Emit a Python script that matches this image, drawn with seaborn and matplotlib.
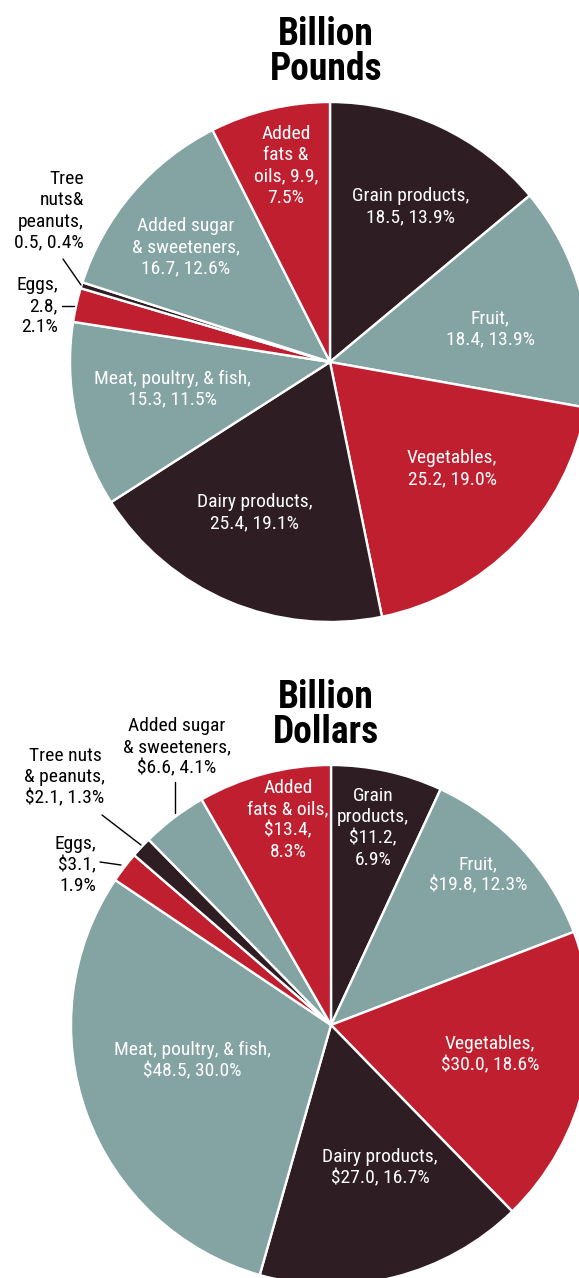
import matplotlib
matplotlib.use("Agg")
import matplotlib.pyplot as plt
import seaborn as sns

sns.set_theme(style="white")
plt.rcParams["font.family"] = ["Roboto Condensed", "Archivo Narrow", "Asap Condensed", "DejaVu Sans"]

# Food groups, clockwise from 12 o'clock
categories = ["Grain products", "Fruit", "Vegetables", "Dairy products",
              "Meat, poultry, & fish", "Eggs", "Tree nuts & peanuts",
              "Added sugar & sweeteners", "Added fats & oils"]
pounds = [18.5, 18.4, 25.2, 25.4, 15.3, 2.8, 0.5, 16.7, 9.9]
pounds_pct = [13.9, 13.9, 19.0, 19.1, 11.5, 2.1, 0.4, 12.6, 7.5]
dollars = [11.2, 19.8, 30.0, 27.0, 48.5, 3.1, 2.1, 6.6, 13.4]
dollars_pct = [6.9, 12.3, 18.6, 16.7, 30.0, 1.9, 1.3, 4.1, 8.3]

DARK, TEAL, RED = "#2e1e23", "#84a3a3", "#c01f2f"
slice_colors = [DARK, TEAL, RED, DARK, TEAL, RED, DARK, TEAL, RED]

pounds_fmt = ["Grain products,\n{v}, {p}%", "Fruit,\n{v}, {p}%", "Vegetables,\n{v}, {p}%",
              "Dairy products,\n{v}, {p}%", "Meat, poultry, & fish,\n{v}, {p}%",
              "Eggs,\n{v},\n{p}%", "Tree\nnuts&\npeanuts,\n{v}, {p}%",
              "Added sugar\n& sweeteners,\n{v}, {p}%", "Added\nfats &\noils, {v},\n{p}%"]
dollars_fmt = ["Grain\nproducts,\n${v},\n{p}%", "Fruit,\n${v}, {p}%", "Vegetables,\n${v}, {p}%",
               "Dairy products,\n${v}, {p}%", "Meat, poultry, & fish,\n${v}, {p}%",
               "Eggs,\n${v},\n{p}%", "Tree nuts\n& peanuts,\n${v}, {p}%",
               "Added sugar\n& sweeteners,\n${v}, {p}%", "Added\nfats & oils,\n${v},\n{p}%"]

W, H = 579, 1278


def Y(py):
    return H - py


fig = plt.figure(figsize=(W / 100, H / 100), dpi=100)
ax = fig.add_axes([0, 0, 1, 1])

# (x, y, ha, color) for each label, in pixel coordinates
pounds_pos = [(411, 207, "center", "white"), (490, 329, "center", "white"),
              (452, 469, "center", "white"), (255, 513, "center", "white"),
              (172, 389, "center", "white"), (58, 306, "right", "black"),
              (84, 211, "right", "black"), (186, 247, "center", "white"),
              (286, 166, "center", "white")]
dollars_pos = [(373, 828, "center", "white"), (478, 875, "center", "white"),
               (490, 1055, "center", "white"), (380, 1168, "center", "white"),
               (192, 1061, "center", "white"), (96, 865, "right", "black"),
               (65, 777, "center", "black"), (177, 747, "center", "black"),
               (288, 820, "center", "white")]

panels = [
    ("Billion\nPounds", 52, (330, 362), pounds, pounds_pct, pounds_fmt, pounds_pos,
     [((63, 259), (81, 285)), ((62, 306), (74, 306))]),
    ("Billion\nDollars", 715, (331, 1025), dollars, dollars_pct, dollars_fmt, dollars_pos,
     [((175, 782), (175, 813)), ((102, 815), (141, 845)), ((100, 862), (121, 865))]),
]

for title, ty, (cx, cy), vals, pcts, fmts, pos, leaders in panels:
    ax.pie(vals, colors=slice_colors, startangle=90, counterclock=False,
           center=(cx, Y(cy)), radius=260,
           wedgeprops=dict(edgecolor="white", linewidth=1.7))
    ax.text(326, Y(ty), title, ha="center", va="center", fontsize=27,
            fontweight="bold", color="black", linespacing=0.95)
    for v, p, f, (x, y, ha, c) in zip(vals, pcts, fmts, pos):
        ax.text(x, Y(y), f.format(v=f"{v:.1f}", p=f"{p:.1f}"), ha=ha, va="center",
                fontsize=14, color=c, linespacing=1.22)
    for (x0, y0), (x1, y1) in leaders:
        ax.plot([x0, x1], [Y(y0), Y(y1)], color="black", linewidth=1.0)

ax.set_xlim(0, W)
ax.set_ylim(0, H)
ax.set_aspect("auto")
ax.axis("off")
fig.savefig("out.png", dpi=100, facecolor="white")
